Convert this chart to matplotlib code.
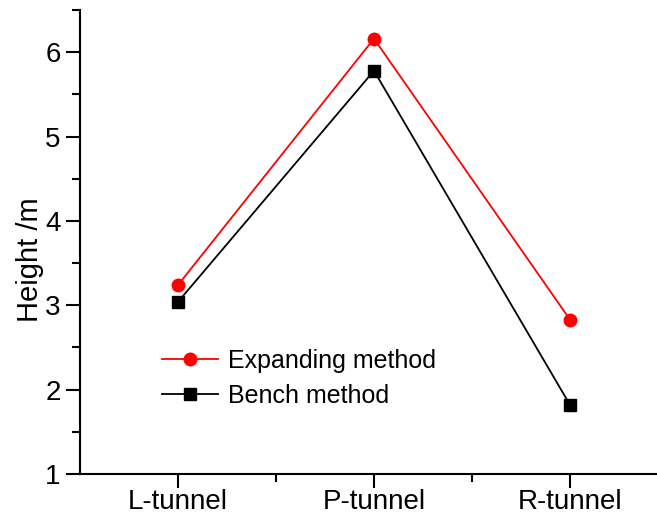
import matplotlib
matplotlib.use("Agg")
import matplotlib.pyplot as plt
from matplotlib.ticker import MultipleLocator, FixedLocator

plt.rcParams['font.family'] = ['Liberation Sans', 'DejaVu Sans']

categories = ["L-tunnel", "P-tunnel", "R-tunnel"]
expanding = [3.24, 6.16, 2.83]
bench = [3.04, 5.78, 1.82]

fig = plt.figure(figsize=(6.57, 5.15), dpi=100)
ax = fig.add_axes([80/657, 41/515, 577/657, 464/515])

x = list(range(len(categories)))
ax.plot(x, expanding, color='red', marker='o', markersize=9, lw=1.3, label='Expanding method')
ax.plot(x, bench, color='black', marker='s', markersize=8, lw=1.3, label='Bench method')

ax.set_xlim(-0.5, 2.444)
ax.set_ylim(1, 6.5)
ax.set_xticks(x)
ax.set_xticklabels(categories)
ax.xaxis.set_minor_locator(FixedLocator([0.5, 1.5]))
ax.yaxis.set_major_locator(MultipleLocator(1))
ax.yaxis.set_minor_locator(MultipleLocator(0.5))

for s in ['top', 'right']:
    ax.spines[s].set_visible(False)
for s in ['left', 'bottom']:
    ax.spines[s].set_linewidth(1.5)

ax.tick_params(which='major', direction='out', length=10, width=1.5, labelsize=20)
ax.tick_params(axis='x', which='major', pad=1)
ax.tick_params(axis='y', which='major', pad=4)
ax.tick_params(which='minor', direction='out', length=6, width=1.5)

ax.set_ylabel('Height /m', fontsize=21, va='center')
ax.yaxis.set_label_coords(-0.087, 0.461)

ax.legend(loc='upper left', bbox_to_anchor=(0.142, 0.27), frameon=False, fontsize=18,
          handlelength=2.24, handletextpad=0.4, labelspacing=0.45, borderpad=0,
          borderaxespad=0)

fig.savefig('out.png', dpi=100)
